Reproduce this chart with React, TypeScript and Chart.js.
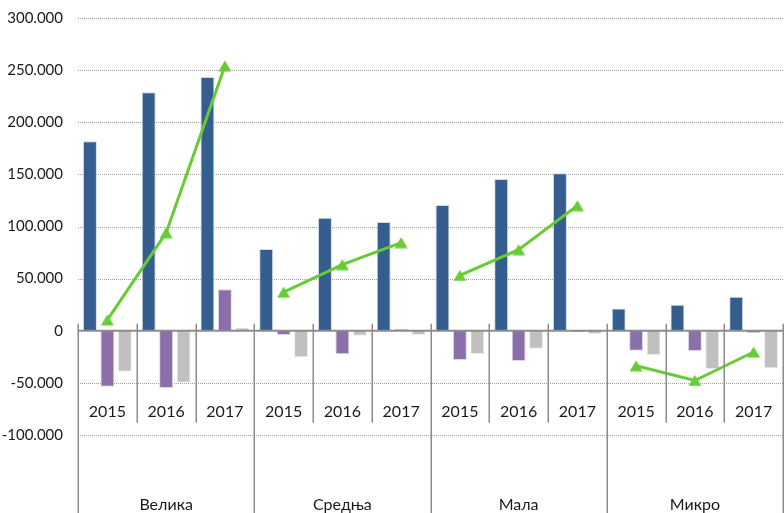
import React, { useEffect, useRef } from "react";
import { Chart, registerables } from "chart.js";

Chart.register(...registerables);

const years = ["2015", "2016", "2017"];
const groups = ["Велика", "Средња", "Мала", "Микро"];
const categories = groups.flatMap(() => years);

const seriesBlue = [181700, 228700, 243500, 78400, 108400, 104300, 120600, 145600, 151000, 21400, 25000, 32600];
const seriesPurple = [-53600, -54900, 39700, -4100, -22600, 2000, -28000, -29000, -1200, -19100, -19400, -2500];
const seriesGray = [-39300, -49800, 3200, -25500, -4800, -4100, -22300, -17200, -3200, -23300, -36700, -36000];
const seriesLine = [10500, 94000, 254000, 37000, 63500, 84500, 53000, 77700, 120000, -33600, -47700, -20400];

const yMin = -100000;
const yMax = 300000;
const yStep = 50000;

const GREEN = "#66CC33";
const FONT = "Lato, 'Noto Sans', sans-serif";

function fmt(v: number): string {
  if (v === 0) return "0";
  const s = String(Math.abs(v)).replace(/\B(?=(\d{3})+(?!\d))/g, ".");
  return (v < 0 ? "-" : "") + s;
}

function makeTriangle(): HTMLCanvasElement {
  const c = document.createElement("canvas");
  c.width = 14;
  c.height = 12;
  const g = c.getContext("2d")!;
  g.fillStyle = GREEN;
  g.beginPath();
  g.moveTo(7, 0.5);
  g.lineTo(13.5, 11.5);
  g.lineTo(0.5, 11.5);
  g.closePath();
  g.fill();
  return c;
}

const gridPlugin = {
  id: "dottedGrid",
  beforeDatasetsDraw(chart: any) {
    const { ctx, chartArea, scales } = chart;
    const ys = scales.y;
    ctx.save();
    ctx.strokeStyle = "#a0a0a0";
    ctx.lineWidth = 1;
    ctx.setLineDash([1, 1]);
    for (const t of ys.ticks) {
      const v = t.value;
      if (v === 0) continue;
      const y = Math.round(ys.getPixelForValue(v)) + 0.5;
      ctx.beginPath();
      ctx.moveTo(chartArea.left, y);
      ctx.lineTo(chart.width, y);
      ctx.stroke();
    }
    ctx.setLineDash([]);
    ctx.fillStyle = "#1a1a1a";
    ctx.textAlign = "right";
    ctx.textBaseline = "middle";
    ctx.font = `15px ${FONT}`;
    for (const t of ys.ticks) {
      ctx.fillText(fmt(t.value), chartArea.left - 15, ys.getPixelForValue(t.value));
    }
    ctx.restore();
  },
};

const categoryAxisPlugin = {
  id: "categoryAxis",
  afterDatasetsDraw(chart: any) {
    const { ctx, chartArea, scales } = chart;
    const ys = scales.y;
    const zeroY = ys.getPixelForValue(0);
    const n = categories.length;
    const w = (chartArea.right - chartArea.left) / n;
    ctx.save();
    ctx.strokeStyle = "#8c8c8c";
    ctx.lineWidth = 2;
    ctx.beginPath();
    ctx.moveTo(chartArea.left, zeroY);
    ctx.lineTo(chart.width, zeroY);
    ctx.stroke();
    ctx.lineWidth = 1.5;
    for (let i = 0; i <= n; i++) {
      const x = Math.round(chartArea.left + i * w) + 0.25;
      const isGroup = i % 3 === 0;
      ctx.beginPath();
      ctx.moveTo(x, zeroY - 7);
      ctx.lineTo(x, isGroup ? chart.height : zeroY + 92);
      ctx.stroke();
    }
    ctx.fillStyle = "#1a1a1a";
    ctx.textAlign = "center";
    ctx.textBaseline = "alphabetic";
    ctx.font = `16px ${FONT}`;
    for (let i = 0; i < n; i++) {
      const cx = chartArea.left + (i + 0.5) * w;
      ctx.fillText(categories[i], cx, zeroY + 86);
    }
    for (let g = 0; g < groups.length; g++) {
      const cx = chartArea.left + (g * 3 + 1.5) * w;
      ctx.fillText(groups[g], cx, zeroY + 179);
    }
    ctx.restore();
  },
};

export default function App() {
  const ref = useRef<HTMLCanvasElement | null>(null);
  useEffect(() => {
    if (!ref.current) return;
    const tri = makeTriangle();
    const barCommon = {
      borderWidth: 1,
      categoryPercentage: 0.89,
      barPercentage: 0.8,
      order: 1,
    };
    const chart = new Chart(ref.current, {
      type: "bar",
      data: {
        labels: categories,
        datasets: [
          {
            type: "line",
            label: "line",
            data: seriesLine,
            borderColor: GREEN,
            backgroundColor: GREEN,
            borderWidth: 3,
            pointStyle: tri,
            pointRadius: 7,
            tension: 0,
            order: 0,
            clip: false,
            segment: {
              borderColor: (c: any) => (c.p0DataIndex % 3 === 2 ? "rgba(0,0,0,0)" : GREEN),
            },
          } as any,
          {
            type: "bar",
            label: "blue",
            data: seriesBlue,
            backgroundColor: "#355E8F",
            borderColor: "rgba(200,215,235,0.9)",
            ...barCommon,
          },
          {
            type: "bar",
            label: "purple",
            data: seriesPurple,
            backgroundColor: "#8B6FA8",
            borderColor: "rgba(220,210,235,0.9)",
            ...barCommon,
          },
          {
            type: "bar",
            label: "gray",
            data: seriesGray,
            backgroundColor: "#C0C0C0",
            borderColor: "rgba(235,235,235,0.9)",
            ...barCommon,
          },
        ],
      },
      options: {
        responsive: false,
        animation: false,
        layout: { autoPadding: false, padding: { top: 18, bottom: 78, right: 1, left: 0 } },
        plugins: {
          legend: { display: false },
          tooltip: { enabled: false },
          title: { display: false },
        },
        scales: {
          x: { display: false, offset: true },
          y: {
            min: yMin,
            max: yMax,
            afterFit: (scale: any) => {
              scale.width = 78;
              scale.paddingTop = 0;
              scale.paddingBottom = 0;
            },
            ticks: { stepSize: yStep, display: false },
            grid: { display: false, drawTicks: false },
            border: { display: false },
          },
        },
      } as any,
      plugins: [gridPlugin, categoryAxisPlugin],
    });
    return () => chart.destroy();
  }, []);
  return (
    <div style={{ position: "absolute", left: 0, top: 0, width: 784, height: 513, background: "#fff" }}>
      <canvas ref={ref} width={784} height={513} style={{ display: "block" }} />
    </div>
  );
}
